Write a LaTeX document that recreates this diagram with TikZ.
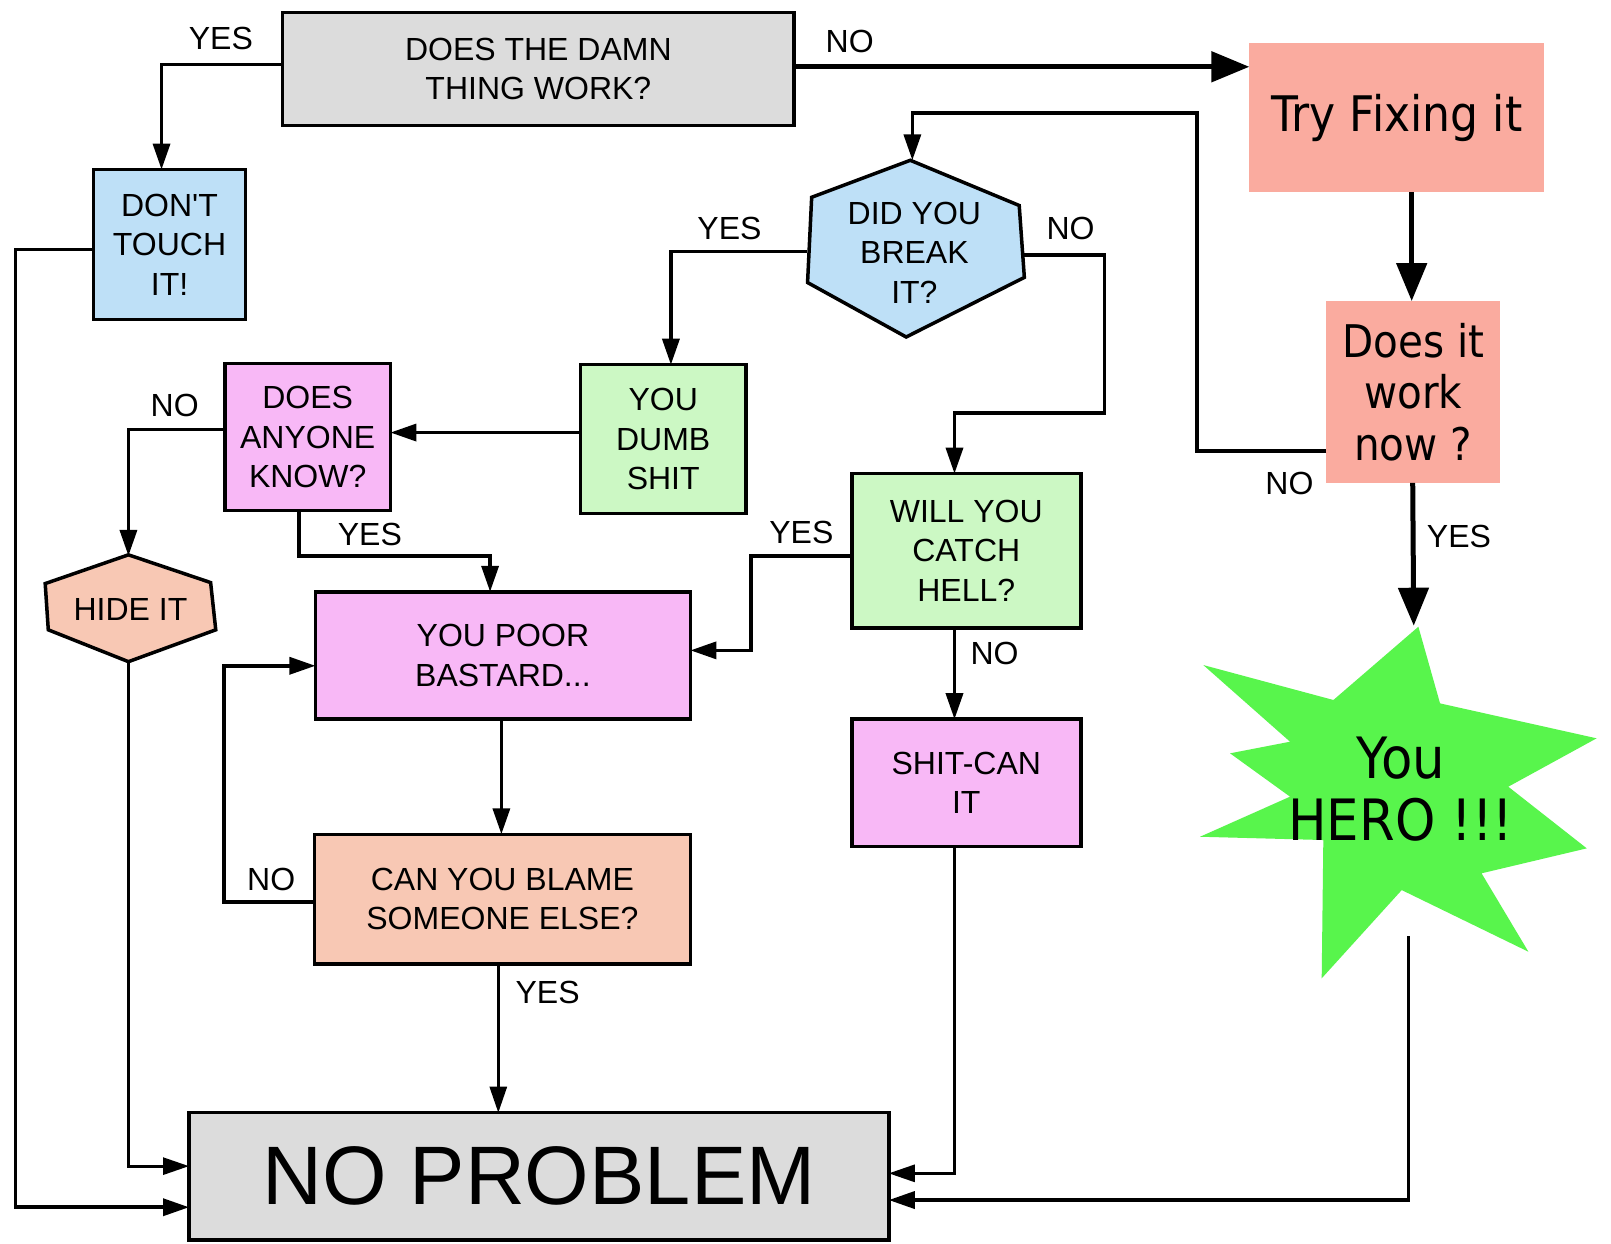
\documentclass[tikz,border=0pt]{standalone}
\usepackage{fontspec}
\setmainfont{Liberation Sans}
\newfontfamily\lsans{Liberation Sans}
\newfontfamily\djv[FakeStretch=0.9]{DejaVu Sans}
\usetikzlibrary{arrows.meta,calc}

\definecolor{boxgray}{HTML}{DCDCDC}
\definecolor{salmon}{HTML}{FAAB9F}
\definecolor{skyblue}{HTML}{BEE0F7}
\definecolor{mint}{HTML}{CCF8C4}
\definecolor{orchid}{HTML}{F8B8F6}
\definecolor{peach}{HTML}{F8C8B4}
\definecolor{herogreen}{HTML}{58F54C}

\newcommand\bxfont{\lsans\fontsize{32}{39.5}\selectfont}

\begin{document}
\begin{tikzpicture}[x=1.0274pt, y=-1.0274pt,
  every node/.style={inner sep=0pt, outer sep=0pt},
  box/.style={draw=black, line width=3.5pt, fill=#1, align=center, font=\bxfont},
  softbox/.style={fill=#1, align=center},
  hexshape/.style={draw=black, line width=3.5pt, fill=#1, line join=miter},
  lbl/.style={font=\bxfont},
  conn/.style={line width=3.5pt, -{Triangle[length=26pt,width=17pt]}},
  thinconn/.style={line width=2.8pt, -{Triangle[length=26pt,width=17pt]}},
  bigconn/.style={line width=5pt, -{Triangle[length=38pt,width=30pt]}}
]
\useasboundingbox[fill=white] (0,0) rectangle (1568,1210);

% ---- rectangular boxes ----
\node[box=boxgray, minimum width=511.6pt, minimum height=113pt] (top) at (524,67)
  {DOES THE DAMN\\THING WORK?};
\node[softbox=salmon, minimum width=294.9pt, minimum height=149pt,
      font=\djv\fontsize{49}{55}\selectfont] (fix) at (1359.5,114.5) {Try Fixing it};
\node[softbox=salmon, minimum width=173.6pt, minimum height=181.8pt,
      font=\djv\fontsize{45}{51.5}\selectfont] (works) at (1375.5,381.5) {Does it\\work\\now ?};
\node[box=skyblue, minimum width=152.1pt, minimum height=150pt] (touch) at (165,238)
  {DON'T\\TOUCH\\IT!};
\node[box=mint, minimum width=165.4pt, minimum height=149pt] (dumb) at (645.5,427.5)
  {YOU\\DUMB\\SHIT};
\node[box=orchid, minimum width=165.4pt, minimum height=146.9pt] (anyone) at (299.5,425.5)
  {DOES\\ANYONE\\KNOW?};
\node[box=orchid, minimum width=375pt, minimum height=127.4pt] (poor) at (489.5,638)
  {YOU POOR\\BASTARD...};
\node[box=mint, minimum width=229.1pt, minimum height=154.1pt] (hell) at (940.5,536)
  {WILL YOU\\CATCH\\HELL?};
\node[box=orchid, minimum width=229.1pt, minimum height=127.4pt] (shitcan) at (940.5,762)
  {SHIT-CAN\\IT};
\node[box=peach, minimum width=376pt, minimum height=129.5pt] (blame) at (489,875)
  {CAN YOU BLAME\\SOMEONE ELSE?};
\node[box=boxgray, minimum width=699.7pt, minimum height=127.4pt,
      font=\lsans\fontsize{83}{83}\selectfont] (np) at (524.5,1145) {NO PROBLEM};

% ---- hexagons ----
\draw[hexshape=skyblue] (886,156) -- (992,200) -- (997,270) -- (882,328)
  -- (786,275) -- (790,192) -- cycle;
\node[font=\bxfont, align=center, minimum width=214.7pt, minimum height=180.8pt]
  (brk) at (890,246) {DID YOU\\BREAK\\IT?};
\coordinate (brktop) at (888,156);

\draw[hexshape=peach] (125,540) -- (205,567) -- (210,613) -- (125,644)
  -- (47,613) -- (44,568) -- cycle;
\node[font=\bxfont, minimum width=170.5pt, minimum height=106.8pt]
  (hide) at (127,593) {HIDE IT};

% ---- star ----
\fill[herogreen] (1380.5,610) -- (1401.6,684.6) -- (1554,718.6) -- (1468,765.7)
  -- (1544.4,825.7) -- (1442,850) -- (1487.6,926.3) -- (1364.3,866.3)
  -- (1286.4,952.2) -- (1288,817.6) -- (1168,814.4) -- (1255.6,775.4)
  -- (1197.2,733.2) -- (1255.6,721.9) -- (1171.2,647.3) -- (1297.8,681.3) -- cycle;
\node[align=center, font=\djv\fontsize{57}{62}\selectfont] (hero) at (1363.5,768) {You\\HERO !!!};
\coordinate (herotop) at (1376,609);
\coordinate (herotail) at (1371,911);

% ---- connectors ----
\draw[conn] (top.west |- 0,63) -| ([xshift=-8pt]touch.north);
\draw[bigconn] (top.east |- 0,65) -- (fix.west |- 0,65);
\draw[bigconn] (fix.south -| 1374,0) -- (works.north -| 1374,0);
\draw[conn] (works.west |- 0,439) -| (1165,110) -| (brktop);
\draw[bigconn] (works.south -| 1375,0) -- (herotop);
\draw[conn] (herotail) |- (np.east |- 0,1168);
\draw[conn] (touch.west |- 0,243) -| (15,1175) -- (np.west |- 0,1175);
\draw[conn] (brk.west |- 0,245) -| (dumb.north -| 653,0);
\draw[conn] (brk.east |- 0,248) -| (1075,402) -| (hell.north -| 929,0);
\draw[conn] (dumb.west |- 0,421) -- (anyone.east |- 0,421);
\draw[conn] (anyone.west |- 0,418) -| (hide.north -| 125,0);
\draw[conn] (anyone.south -| 291,0) |- (477,541) -- (poor.north -| 477,0);
\draw[conn] (hell.west |- 0,541) -| (731,633) -- (poor.east |- 0,633);
\draw[conn] (hell.south -| 929,0) -- (shitcan.north -| 929,0);
\draw[conn] (poor.south -| 488,0) -- (blame.north -| 488,0);
\draw[conn] (blame.west |- 0,878) -| (218,648) -- (poor.west |- 0,648);
\draw[thinconn] (blame.south -| 485,0) -- (np.north -| 485,0);
\draw[thinconn] (hide.south -| 125,0) |- (np.west |- 0,1135);
\draw[thinconn] (shitcan.south -| 929,0) |- (np.east |- 0,1142);

% ---- branch labels ----
\node[lbl] (l1) at (215,37) {YES};
\node[lbl] (l2) at (827,40) {NO};
\node[lbl] (l3) at (710,222) {YES};
\node[lbl] (l4) at (1042,222) {NO};
\node[lbl] (l5) at (170,395) {NO};
\node[lbl] (l6) at (360,520) {YES};
\node[lbl] (l7) at (780,518) {YES};
\node[lbl] (l8) at (968,636) {NO};
\node[lbl] (l9) at (264,856) {NO};
\node[lbl] (l10) at (533,966) {YES};
\node[lbl] (l11) at (1255,471) {NO};
\node[lbl] (l12) at (1420,522) {YES};
\end{tikzpicture}
\end{document}
